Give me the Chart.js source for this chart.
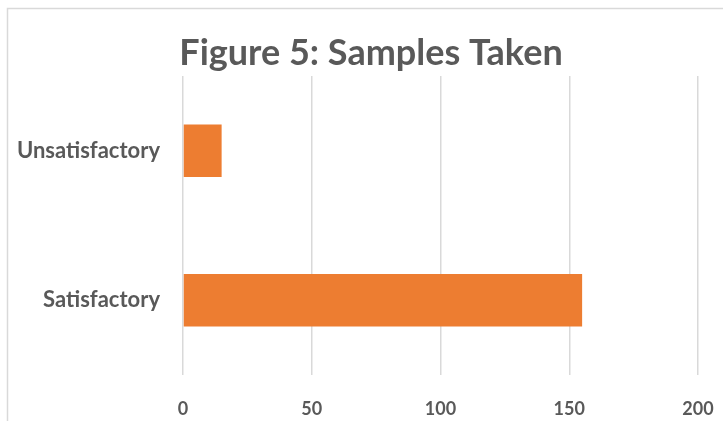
<!DOCTYPE html>
<html>
<head>
<meta charset="utf-8">
<script src="https://cdn.jsdelivr.net/npm/chart.js@4/dist/chart.umd.min.js"></script>
<style>
  html, body { margin: 0; padding: 0; background: #ffffff; }
  #wrap { width: 723px; height: 421px; position: relative; }
</style>
</head>
<body>
<div id="wrap"><canvas id="chart"></canvas></div>
<script>
// Sample results by outcome
const categories = ['Unsatisfactory', 'Satisfactory'];
const samples = [15, 155];
const xTicks = [0, 50, 100, 150, 200];
const chartTitle = 'Figure 5: Samples Taken';

const textColor = '#595959';
const gridColor = '#d9d9d9';
const fontFamily = 'Lato, "Open Sans", sans-serif';

// Outer frame and centred heading
const framePlugin = {
  id: 'frame',
  beforeDraw(chart) {
    const ctx = chart.ctx;
    ctx.save();
    ctx.strokeStyle = gridColor;
    ctx.lineWidth = 1.5;
    ctx.strokeRect(7.5, 8.5, 900, 900);
    ctx.restore();
  },
  afterDraw(chart) {
    const ctx = chart.ctx;
    ctx.save();
    ctx.fillStyle = textColor;
    ctx.font = 'bold 36px ' + fontFamily;
    ctx.textAlign = 'center';
    ctx.textBaseline = 'alphabetic';
    ctx.fillText(chartTitle, 371, 65);
    ctx.restore();
  }
};

new Chart(document.getElementById('chart'), {
  type: 'bar',
  data: {
    labels: categories,
    datasets: [{
      label: 'Samples',
      data: samples,
      backgroundColor: '#ED7D31',
      borderWidth: 0,
      categoryPercentage: 1,
      barPercentage: 0.35
    }]
  },
  options: {
    indexAxis: 'y',
    responsive: true,
    maintainAspectRatio: false,
    animation: false,
    layout: { padding: { top: 76, right: 25, bottom: 0, left: 0 } },
    plugins: {
      legend: { display: false },
      title: { display: false },
      tooltip: { enabled: false }
    },
    scales: {
      x: {
        min: 0,
        max: 200,
        afterBuildTicks(scale) { scale.ticks = xTicks.map(v => ({ value: v })); },
        afterFit(scale) {
          scale.height = 46;
          scale.paddingLeft = 0;
          scale.paddingRight = 0;
        },
        grid: { color: gridColor, lineWidth: 1.5, drawTicks: false },
        border: { display: false },
        ticks: {
          padding: 23,
          color: textColor,
          font: { family: fontFamily, size: 18, weight: 'bold' }
        }
      },
      y: {
        afterFit(scale) { scale.width = 183; },
        grid: { display: false, drawTicks: false },
        border: { display: false },
        ticks: {
          padding: 23,
          color: textColor,
          font: { family: fontFamily, size: 22, weight: 'bold' }
        }
      }
    }
  },
  plugins: [framePlugin]
});
</script>
</body>
</html>
